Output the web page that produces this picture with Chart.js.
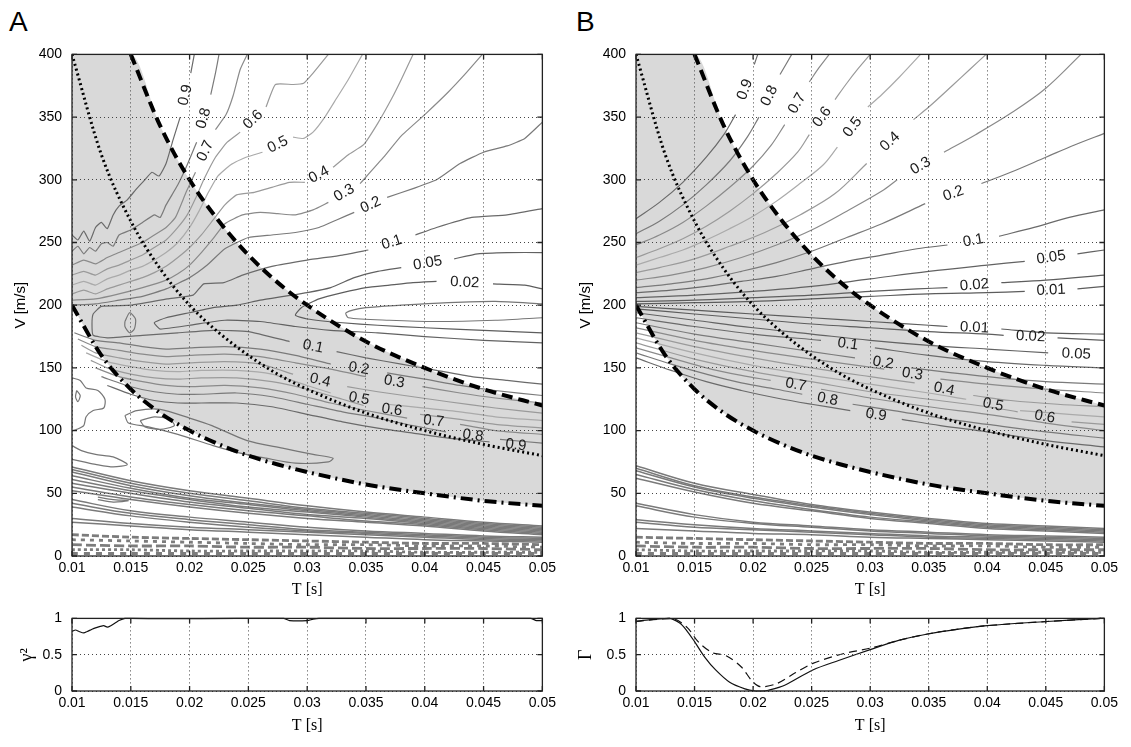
<!DOCTYPE html>
<html>
<head>
<meta charset="utf-8">
<script src="https://cdn.jsdelivr.net/npm/chart.js@4/dist/chart.umd.min.js"></script>
<style>
  html, body { margin: 0; padding: 0; background: #fff; width: 1131px; height: 747px; overflow: hidden; }
  .box { position: absolute; }
  .panel { position: absolute; font-family: 'Liberation Sans', Arial, sans-serif; font-size: 28px; line-height: 1; color: #000; }
</style>
</head>
<body>
<div class="panel" style="left:9px;top:8px;">A</div>
<div class="panel" style="left:576px;top:8px;">B</div>
<div class="box" style="left:0px;top:36px;"><canvas id="mainA" width="560" height="564"></canvas></div>
<div class="box" style="left:565px;top:36px;"><canvas id="mainB" width="557" height="564"></canvas></div>
<div class="box" style="left:0px;top:600px;"><canvas id="lowA" width="560" height="135"></canvas></div>
<div class="box" style="left:565px;top:600px;"><canvas id="lowB" width="557" height="135"></canvas></div>
<script>
// ---------- axes ----------
const tTicks = [0.01, 0.015, 0.02, 0.025, 0.03, 0.035, 0.04, 0.045, 0.05];
const tTickLabels = ['0.01', '0.015', '0.02', '0.025', '0.03', '0.035', '0.04', '0.045', '0.05'];
const vTicks = [0, 50, 100, 150, 200, 250, 300, 350, 400];
const vTickLabels = ['0', '50', '100', '150', '200', '250', '300', '350', '400'];
const rTicks = [0, 0.5, 1];
const rTickLabels = ['0', '0.5', '1'];

// ---------- reference curves (T [s], V [m/s]) ----------
const dashedT = [0.015, 0.0175, 0.02, 0.0225, 0.025, 0.0275, 0.03, 0.035, 0.04, 0.045, 0.05];
const dashedV = [400, 343, 300, 267, 240, 218, 200, 171, 150, 133, 120];
const dottedT = [0.01, 0.0125, 0.015, 0.0175, 0.02, 0.0225, 0.025, 0.0275, 0.03, 0.035, 0.04, 0.045, 0.05];
const dottedV = [400, 320, 267, 229, 200, 178, 160, 145, 133, 114, 100, 89, 80];
const dashDotT = [0.01, 0.0125, 0.015, 0.0175, 0.02, 0.0225, 0.025, 0.0275, 0.03, 0.035, 0.04, 0.045, 0.05];
const dashDotV = [200, 160, 133, 114, 100, 89, 80, 73, 67, 57, 50, 44, 40];
const shadeTopV = [400, 400, 400, 343, 300, 267, 240, 218, 200, 171, 150, 133, 120];

// ---------- panel A contours ([T, V] points, null = label break) ----------
const aFanLevels = ['0.9', '0.8', '0.7', '0.6', '0.5', '0.4', '0.3', '0.2'];
const aFanLines = [
  [[0.01,256],[0.0105,252],[0.011,259],[0.0115,251],[0.012,262],[0.0125,266],[0.013,261],[0.0135,272],[0.014,279],[0.0147,284],[0.0155,293],[0.0162,300],[0.0168,306],[0.0174,303],[0.018,313],[0.0186,332],[0.0192,350],null,[0.0201,385],[0.0204,400]],
  [[0.01,243],[0.0105,247],[0.011,241],[0.0115,246],[0.012,243],[0.0125,249],[0.013,250],[0.0135,247],[0.014,256],[0.015,260],[0.016,266],[0.017,272],[0.0175,270],[0.018,280],[0.019,296],[0.0198,312],[0.0206,330],null,[0.0218,368],[0.0222,385],[0.0225,400]],
  [[0.01,232],[0.011,236],[0.012,233],[0.013,238],[0.014,242],[0.015,246],[0.016,250],[0.017,256],[0.018,262],[0.0188,270],[0.0197,290],[0.0205,306],null,[0.0222,340],[0.0231,352],[0.0237,367],[0.0243,388],[0.0249,400]],
  [[0.01,224],[0.011,227],[0.012,224],[0.013,229],[0.014,232],[0.015,236],[0.016,240],[0.017,246],[0.018,252],[0.019,262],[0.0198,272],[0.0205,285],[0.0212,300],[0.0222,318],[0.0232,330],[0.0243,338],null,[0.0265,358],[0.0273,376],[0.0288,376],[0.0297,377],[0.0305,385],[0.0318,400]],
  [[0.01,216],[0.011,219],[0.012,216],[0.013,221],[0.014,224],[0.015,228],[0.016,231],[0.017,236],[0.018,242],[0.019,250],[0.02,262],[0.0208,275],[0.0216,290],[0.0224,303],[0.0235,312],[0.0248,318],[0.0262,322],null,[0.0288,334],[0.0297,333],[0.0305,338],[0.0315,350],[0.0325,365],[0.0335,380],[0.0347,400]],
  [[0.01,209],[0.011,212],[0.012,209],[0.013,213],[0.014,216],[0.015,219],[0.016,222],[0.017,226],[0.018,231],[0.019,238],[0.02,246],[0.021,256],[0.022,268],[0.023,280],[0.024,288],[0.0255,290],[0.027,294],[0.0285,298],[0.0298,298],null,[0.0322,310],[0.0335,320],[0.0348,328],[0.036,345],[0.0372,365],[0.038,380],[0.039,400]],
  [[0.01,204],[0.012,205],[0.014,209],[0.016,214],[0.018,220],[0.019,225],[0.02,232],[0.021,242],[0.022,253],[0.023,265],[0.0245,272],[0.026,274],[0.0275,273],[0.029,272],[0.0305,276],[0.0318,282],null,[0.0345,297],[0.0365,318],[0.038,335],[0.04,352],[0.042,370],[0.0435,385],[0.0449,400]],
  [[0.01,200],[0.012,201],[0.014,204],[0.016,207],[0.018,213],[0.02,222],[0.0215,232],[0.023,245],[0.025,254],[0.027,256],[0.029,258],[0.031,262],[0.0325,268],[0.034,274],null,[0.0368,286],[0.039,293],[0.041,300],[0.043,313],[0.045,322],[0.047,327],[0.0485,333],[0.05,346]]
];
const aMidLevels = ['0.1', '0.05', '0.02'];
const aMidLines = [
  [[0.05,277],[0.047,272],[0.044,270],[0.041,262],[0.0392,256],null,[0.0352,244],[0.033,240],[0.03,236],[0.027,231],[0.0245,224],[0.0229,218],[0.0212,217],[0.0203,208],[0.0181,205],[0.015,200],[0.0125,199],[0.0118,193],[0.0117,185],[0.0118,176],[0.013,174],[0.016,176],[0.019,178],[0.022,180],[0.025,179],[0.0285,171],null,[0.0325,163],[0.035,158],[0.038,153],[0.041,148],[0.044,143],[0.047,140],[0.05,137]],
  [[0.05,242],[0.047,242],[0.0445,241],[0.0425,237],null,[0.038,230],[0.036,227],[0.034,222],[0.032,214],[0.03,210],[0.028,207],[0.026,204],[0.024,200],[0.022,198],[0.02,194],[0.018,190],[0.017,186],[0.0175,181],[0.02,184],[0.023,188],[0.026,187],[0.029,183],[0.032,180],[0.036,178],[0.04,175],[0.045,172],[0.05,170]],
  [[0.05,213],[0.0485,216],[0.0458,217],null,[0.041,219],[0.039,218],[0.037,216],[0.035,214],[0.033,210],[0.031,205],[0.0295,198],[0.029,192],[0.03,189],[0.033,186],[0.036,184],[0.04,182],[0.045,180],[0.05,178]]
];
const aLowLevels = ['0.2', '0.3', '0.4', '0.5', '0.6', '0.7', '0.8', '0.9'];
const aLowLines = [
  [[0.0102,178],[0.012,172],[0.014,170],[0.016,167],[0.018,165],[0.02,166],[0.023,167],[0.026,165],[0.029,160],[0.032,153],null,[0.0368,146],[0.04,141],[0.043,136],[0.046,132],[0.05,128]],
  [[0.0105,173],[0.012,167],[0.014,164],[0.016,161],[0.018,159],[0.02,160],[0.023,161],[0.026,159],[0.029,154],[0.032,149],[0.035,143],null,[0.0398,135],[0.043,130],[0.046,126],[0.05,122]],
  [[0.0108,168],[0.012,162],[0.014,158],[0.016,155],[0.018,153],[0.02,154],[0.023,155],[0.026,153],[0.0288,145],null,[0.0334,135],[0.036,131],[0.039,127],[0.042,123],[0.046,118],[0.05,114]],
  [[0.0112,162],[0.013,155],[0.015,151],[0.017,148],[0.019,147],[0.021,148],[0.024,148],[0.027,145],[0.03,136],[0.032,130],null,[0.0368,121],[0.04,118],[0.043,115],[0.046,111],[0.05,108]],
  [[0.0116,156],[0.013,150],[0.015,145],[0.017,142],[0.019,141],[0.021,142],[0.024,142],[0.027,139],[0.03,133],[0.033,125],[0.0348,120],null,[0.0396,113],[0.043,109],[0.046,105],[0.05,102]],
  [[0.012,150],[0.014,143],[0.016,139],[0.018,136],[0.02,135],[0.023,136],[0.026,134],[0.029,129],[0.032,122],[0.035,116],[0.0385,110],null,[0.043,105],[0.046,100],[0.05,97]],
  [[0.0125,143],[0.015,135],[0.017,131],[0.019,129],[0.021,129],[0.024,130],[0.027,127],[0.03,121],[0.033,115],[0.036,110],[0.039,104],[0.0418,99],null,[0.0464,93],[0.05,90]],
  [[0.013,136],[0.015,129],[0.017,124],[0.019,122],[0.021,122],[0.024,122],[0.027,119],[0.03,113],[0.033,107],[0.036,102],[0.039,98],[0.042,94],[0.0455,91],null,[0.05,86]]
];
const aLoops = [
  [[0.05,201],[0.046,203],[0.042,202],[0.038,200],[0.035,198],[0.0333,194],[0.0335,190],[0.037,188],[0.041,187],[0.046,188],[0.05,190]],
  [[0.0145,112],[0.0155,116],[0.0175,117],[0.02,110],[0.0219,104],[0.0249,92],[0.0279,86],[0.0305,81],[0.0322,78],[0.0318,75],[0.029,74],[0.0265,78],[0.0243,82],[0.022,88],[0.019,97],[0.0165,103],[0.0148,106],[0.0145,112]],
  [[0.0158,108],[0.017,111],[0.0183,109],[0.0187,104],[0.0175,101],[0.0162,103],[0.0158,108]],
  [[0.0145,187],[0.0149,194],[0.0154,189],[0.0153,181],[0.0149,178],[0.0145,183],[0.0145,187]],
  [[0.01,142],[0.0107,140],[0.0112,134],[0.0122,132],[0.0128,125],[0.0127,118],[0.0118,116],[0.0112,111],[0.011,104],[0.0104,101],[0.01,100]],
  [[0.0104,132],[0.0107,128],[0.0105,123],[0.0103,127],[0.0104,132]],
  [[0.01,88],[0.0108,84],[0.012,81],[0.0135,79],[0.0147,73],[0.0135,71],[0.012,73],[0.011,75],[0.01,77]],
  [[0.0122,47],[0.0135,45],[0.0148,44],[0.0135,43],[0.0122,45]]
];

// ---------- low-velocity bands, sampled at bandT ----------
const bandT = [0.01, 0.015, 0.02, 0.025, 0.03, 0.035, 0.04, 0.045, 0.05];
const aBands = [
  [71,60,52,46,40,35,31,27,24],
  [69,58,50,44,38,34,30,26,23],
  [67,56,48,42,37,33,29,25,22],
  [64,54,46,41,36,32,28,24,21],
  [61,52,45,39,35,31,27,23,20],
  [58,50,43,38,33,30,26,22,19],
  [55,47,41,36,32,28,25,21,18],
  [52,45,39,34,30,27,24,20,17],
  [45,36,31,27,23,20,18,16,15],
  [42,34,29,25,21,19,17,15,14],
  [39,32,27,23,20,18,16,14,13],
  [30,26,23,21,19,17,15,13,12],
  [27,24,21,19,17,15,13,12,11]
];
const aNoise = [
  [17,15,14,13,12,11,10,10,9],
  [13,12,11,10,9,9,8,8,7],
  [9,8,8,7,7,6,6,6,5],
  [5,5,4,4,4,4,3,3,3],
  [2,2,2,2,2,2,2,2,2]
];

// ---------- panel B contours ----------
const bFanLevels = ['0.9', '0.8', '0.7', '0.6', '0.5', '0.4', '0.3', '0.2', '0.1', '0.05', '0.02', '0.01'];
const bFanLines = [
  [[0.01,269],[0.012,282],[0.014,298],[0.016,318],[0.0175,336],[0.0185,352],null,[0.0201,392],[0.0204,400]],
  [[0.01,257],[0.012,267],[0.014,280],[0.016,296],[0.018,315],[0.0195,334],[0.0205,350],null,[0.0223,384],[0.0233,400]],
  [[0.01,248],[0.012,256],[0.014,266],[0.016,279],[0.018,294],[0.02,311],[0.0215,327],[0.0227,344],null,[0.0248,378],[0.0256,389],[0.0265,400]],
  [[0.01,238],[0.012,245],[0.014,253],[0.016,263],[0.018,275],[0.02,289],[0.022,305],[0.0238,322],[0.0248,336],null,[0.027,364],[0.028,377],[0.029,389],[0.03,400]],
  [[0.01,232],[0.012,238],[0.014,244],[0.016,252],[0.018,261],[0.02,271],[0.022,283],[0.024,297],[0.026,312],[0.0272,326],null,[0.0298,358],[0.031,368],[0.0325,382],[0.0343,400]],
  [[0.01,226],[0.012,230],[0.015,237],[0.018,247],[0.021,258],[0.024,272],[0.027,289],[0.0297,313],null,[0.0337,348],[0.035,358],[0.037,375],[0.0385,388],[0.0399,400]],
  [[0.01,220],[0.013,224],[0.016,230],[0.019,238],[0.022,248],[0.025,260],[0.028,275],[0.031,291],[0.0323,300],null,[0.0363,322],[0.039,336],[0.042,353],[0.045,373],[0.048,400]],
  [[0.01,214],[0.013,217],[0.016,221],[0.019,227],[0.022,234],[0.025,243],[0.028,254],[0.031,265],[0.0347,281],null,[0.0395,297],[0.042,306],[0.045,318],[0.0475,328],[0.05,337]],
  [[0.01,210],[0.013,212],[0.016,215],[0.019,219],[0.022,223],[0.025,229],[0.028,235],[0.031,240],[0.034,245],[0.0366,248],null,[0.041,255],[0.044,262],[0.047,270],[0.05,276]],
  [[0.01,206],[0.015,208],[0.02,211],[0.025,215],[0.03,221],[0.035,227],[0.04,232],[0.0432,235],null,[0.0477,241],[0.05,244]],
  [[0.01,203],[0.015,204],[0.02,206],[0.025,208],[0.03,211],[0.034,213],[0.0366,214],null,[0.0412,218],[0.045,220],[0.05,224]],
  [[0.01,201],[0.015,202],[0.02,203],[0.025,205],[0.03,207],[0.035,209],[0.04,210],[0.0432,211],null,[0.0477,213],[0.05,215]]
];
const bLowLevels = ['0.01', '0.02', '0.05', '0.1', '0.2', '0.3', '0.4', '0.5', '0.6', '0.7', '0.8', '0.9'];
const bLowLines = [
  [[0.01,199],[0.015,196],[0.02,193],[0.025,190],[0.03,187],[0.035,184],[0.0366,183],null,[0.0412,181],[0.045,178],[0.05,177]],
  [[0.01,197],[0.015,193],[0.02,189],[0.025,185],[0.03,182],[0.035,179],[0.04,177],[0.0414,176],null,[0.046,174],[0.05,172]],
  [[0.01,194],[0.015,188],[0.02,182],[0.025,177],[0.03,172],[0.035,168],[0.04,165],[0.0452,162],null,[0.05,160]],
  [[0.01,190],[0.015,183],[0.02,177],[0.0258,172],null,[0.0304,166],[0.035,160],[0.04,155],[0.045,152],[0.05,150]],
  [[0.01,186],[0.015,177],[0.02,170],[0.025,163],[0.0287,158],null,[0.0335,150],[0.037,146],[0.041,142],[0.045,139],[0.05,137]],
  [[0.01,182],[0.015,172],[0.02,164],[0.025,157],[0.0312,149],null,[0.036,141],[0.04,137],[0.045,133],[0.05,130]],
  [[0.01,178],[0.015,167],[0.02,158],[0.025,150],[0.03,143],[0.0338,138],null,[0.0388,128],[0.042,124],[0.046,121],[0.05,119]],
  [[0.01,174],[0.015,162],[0.02,152],[0.025,144],[0.03,137],[0.035,130],[0.0382,125],null,[0.0428,116],[0.047,113],[0.05,111]],
  [[0.01,170],[0.015,157],[0.02,147],[0.025,139],[0.03,131],[0.035,125],[0.04,119],[0.0426,115],null,[0.0472,107],[0.05,105]],
  [[0.01,166],[0.013,158],[0.016,150],[0.019,144],[0.0215,140],null,[0.0258,133],[0.03,126],[0.035,119],[0.04,113],[0.045,106],[0.05,100]],
  [[0.01,162],[0.013,153],[0.016,145],[0.019,138],[0.022,133],[0.0242,129],null,[0.0285,121],[0.032,116],[0.036,110],[0.04,105],[0.045,99],[0.05,94]],
  [[0.01,158],[0.013,148],[0.016,139],[0.019,132],[0.022,126],[0.025,121],[0.0283,116],null,[0.0327,109],[0.036,104],[0.04,99],[0.045,92],[0.05,87]]
];
const bBands = [
  [72,58,49,41,35,30,26,24,22],
  [70,56,47,40,34,29,25,23,21],
  [68,55,46,39,33,28,24,22,20],
  [65,53,44,37,31,27,23,21,19],
  [62,51,42,36,30,26,22,20,18],
  [42,33,27,24,21,19,17,16,15],
  [40,31,26,23,20,18,16,15,14],
  [29,25,22,20,18,16,15,14,13],
  [27,23,21,19,17,15,14,13,12],
  [22,20,18,17,15,14,13,12,11]
];
const bNoise = [
  [15,14,13,12,11,10,10,9,9],
  [11,10,10,9,9,8,8,7,7],
  [8,7,7,6,6,6,5,5,5],
  [5,4,4,4,4,3,3,3,3],
  [2,2,2,2,2,2,2,2,2]
];

// ---------- lower panels ----------
const gammaT = [0.01,0.0103,0.0106,0.011,0.0113,0.0117,0.012,0.0124,0.0127,0.013,0.0133,0.0137,0.014,0.0145,0.015,0.018,0.024,0.028,0.0285,0.03,0.0305,0.031,0.035,0.04,0.045,0.049,0.0495,0.05];
const gammaV = [0.82,0.84,0.82,0.80,0.82,0.85,0.87,0.89,0.90,0.88,0.90,0.94,0.97,1.0,1.0,0.995,1.0,1.0,0.97,0.97,0.99,1.0,1.0,1.0,1.0,1.0,0.97,0.97];
const gSolidT = [0.01,0.0128,0.0137,0.0143,0.015,0.0159,0.0168,0.018,0.0193,0.0202,0.0208,0.0213,0.0227,0.0251,0.0273,0.03,0.0325,0.0349,0.0374,0.04,0.0451,0.0497,0.05];
const gSolidV = [0.96,1.0,0.94,0.84,0.68,0.46,0.29,0.12,0.03,0.0,0.0,0.01,0.08,0.29,0.42,0.57,0.70,0.785,0.85,0.90,0.957,1.0,1.0];
const gDashT = [0.01,0.0131,0.0144,0.0153,0.0165,0.0177,0.019,0.0199,0.0206,0.022,0.0236,0.0251,0.0276,0.03,0.0325,0.0349,0.0374,0.04,0.0451,0.0497,0.05];
const gDashV = [0.96,1.0,0.87,0.68,0.53,0.485,0.33,0.14,0.06,0.1,0.25,0.38,0.51,0.59,0.70,0.785,0.85,0.90,0.957,1.0,1.0];

// ---------- helpers ----------
const SANS = "'Liberation Sans', Arial, Helvetica, sans-serif";
const SERIF = "'Liberation Serif', 'Times New Roman', serif";

function pairs(ts, vs) { return ts.map((t, i) => ({ x: t, y: vs[i] })); }
function fromPts(pts) {
  const out = [];
  pts.forEach((p, i) => {
    if (p === null) {
      const a = pts[i - 1], b = pts[i + 1];
      out.push({ x: (a[0] + b[0]) / 2, y: null });
    } else out.push({ x: p[0], y: p[1] });
  });
  return out;
}
function levelGray(level) {
  const d = Math.min(1, Math.abs(parseFloat(level) - 0.5) / 0.5);
  const g = Math.round(170 - 80 * d);
  return 'rgb(' + g + ',' + g + ',' + g + ')';
}
function line(data, color, width, dash, tension, extra) {
  return Object.assign({
    data, borderColor: color, borderWidth: width, borderDash: dash || [],
    pointRadius: 0, tension: tension || 0, fill: false, spanGaps: false
  }, extra || {});
}

function mainDatasets(side) {
  const ds = [];
  ds.push(line(pairs(dashedT, dashedV), '#000', 4, [11, 6], 0, { cubicInterpolationMode: 'monotone' }));
  ds.push(line(pairs(dottedT, dottedV), '#000', 3, [2, 3], 0, { cubicInterpolationMode: 'monotone' }));
  ds.push(line(pairs(dashDotT, dashDotV), '#000', 4, [12, 5, 2, 5], 0, { cubicInterpolationMode: 'monotone' }));
  const groups = side === 'A'
    ? [[aFanLevels, aFanLines, 0.15], [aMidLevels, aMidLines, 0.15], [aLowLevels, aLowLines, 0.2]]
    : [[bFanLevels, bFanLines, 0.35], [bLowLevels, bLowLines, 0.35]];
  groups.forEach(([levels, lines, ten]) => {
    lines.forEach((pts, i) => {
      ds.push(line(fromPts(pts), levelGray(levels[i]), 1.2, [], ten, { contourLabel: levels[i] }));
    });
  });
  if (side === 'A') aLoops.forEach(pts => ds.push(line(fromPts(pts), '#767676', 1.2, [], 0.25)));
  const bands = side === 'A' ? aBands : bBands;
  const noise = side === 'A' ? aNoise : bNoise;
  bands.forEach(v => ds.push(line(pairs(bandT, v), '#7a7a7a', 1.5, [], 0.35)));
  const dashes = [[7, 3], [4, 5], [10, 4], [3, 3], [6, 6]];
  noise.forEach((v, i) => ds.push(line(pairs(bandT, v), '#7c7c7c', 2.8, dashes[i % dashes.length], 0.3)));
  // shaded band between the dashed and dash-dot curves
  ds.push(line(pairs(dashDotT, shadeTopV), 'rgba(0,0,0,0)', 0, [], 0,
    { cubicInterpolationMode: 'monotone', fill: '+1', backgroundColor: '#d9d9d9' }));
  ds.push(line(pairs(dashDotT, dashDotV), 'rgba(0,0,0,0)', 0, [], 0, { cubicInterpolationMode: 'monotone' }));
  return ds;
}

// labels written into the breaks of contour lines
const contourLabels = {
  id: 'contourLabels',
  afterDatasetsDraw(chart) {
    const { ctx, chartArea: a } = chart;
    const xs = chart.scales.x, ys = chart.scales.y;
    ctx.save();
    ctx.font = '15px ' + SANS;
    ctx.fillStyle = '#1a1a1a';
    ctx.textAlign = 'center';
    ctx.textBaseline = 'middle';
    chart.data.datasets.forEach(ds => {
      if (!ds.contourLabel) return;
      const d = ds.data;
      for (let i = 1; i < d.length - 1; i++) {
        if (d[i].y !== null) continue;
        const x1 = xs.getPixelForValue(d[i - 1].x), y1 = ys.getPixelForValue(d[i - 1].y);
        const x2 = xs.getPixelForValue(d[i + 1].x), y2 = ys.getPixelForValue(d[i + 1].y);
        const mx = (x1 + x2) / 2, my = (y1 + y2) / 2;
        if (mx < a.left || mx > a.right + 6 || my < a.top || my > a.bottom) continue;
        let ang = Math.atan2(y2 - y1, x2 - x1);
        if (ang > Math.PI / 2) ang -= Math.PI;
        if (ang < -Math.PI / 2) ang += Math.PI;
        ctx.save();
        ctx.translate(mx, my);
        ctx.rotate(ang);
        ctx.fillText(ds.contourLabel, 0, 0);
        ctx.restore();
      }
    });
    ctx.restore();
  }
};

// box frame with inward tick marks
const frame = {
  id: 'frame',
  afterDraw(chart) {
    const { ctx, chartArea: a } = chart;
    const xs = chart.scales.x, ys = chart.scales.y;
    ctx.save();
    ctx.strokeStyle = '#222';
    ctx.lineWidth = 1.3;
    ctx.setLineDash([]);
    ctx.strokeRect(a.left, a.top, a.right - a.left, a.bottom - a.top);
    ctx.beginPath();
    xs.ticks.forEach(t => {
      const p = xs.getPixelForValue(t.value);
      ctx.moveTo(p, a.bottom); ctx.lineTo(p, a.bottom - 5);
      ctx.moveTo(p, a.top); ctx.lineTo(p, a.top + 5);
    });
    ys.ticks.forEach(t => {
      const p = ys.getPixelForValue(t.value);
      ctx.moveTo(a.left, p); ctx.lineTo(a.left + 5, p);
      ctx.moveTo(a.right, p); ctx.lineTo(a.right - 5, p);
    });
    ctx.stroke();
    ctx.restore();
  }
};

function build(id, datasets, o) {
  return new Chart(document.getElementById(id), {
    type: 'line',
    data: { datasets },
    options: {
      responsive: false, animation: false, devicePixelRatio: 1, events: [],
      layout: { padding: { top: o.padTop, right: 12, left: 0, bottom: 0 } },
      plugins: { legend: { display: false }, tooltip: { enabled: false } },
      scales: {
        x: {
          type: 'linear', min: 0.01, max: 0.05,
          afterBuildTicks: s => { s.ticks = tTicks.map(v => ({ value: v })); },
          afterFit: s => { s.height = o.xHeight; },
          ticks: { callback: (v, i) => tTickLabels[i], font: { family: SANS, size: 14 }, color: '#000', padding: 4, maxRotation: 0, autoSkip: false },
          grid: { color: '#444', lineWidth: 1, drawTicks: false, z: 1 },
          border: { display: false, dash: [1, 3] },
          title: { display: true, text: 'T [s]', font: { family: SERIF, size: 16 }, color: '#000', padding: { top: 0, bottom: o.xTitlePad } }
        },
        y: {
          type: 'linear', min: o.yMin, max: o.yMax,
          afterBuildTicks: s => { s.ticks = o.yTicks.map(v => ({ value: v })); },
          afterFit: s => { s.width = o.yWidth; },
          ticks: { callback: (v, i) => o.yLabels[i], font: { family: SANS, size: 14 }, color: '#000', padding: 10, autoSkip: false },
          grid: { color: '#444', lineWidth: 1, drawTicks: false, z: 1 },
          border: { display: false, dash: [1, 3] },
          title: { display: true, text: o.yTitle, font: o.yTitleFont, color: '#000', padding: { top: o.yTitlePad, bottom: 0 } }
        }
      }
    },
    plugins: [contourLabels, frame]
  });
}

const mainOpts = (w) => ({
  padTop: 10, xHeight: 44, xTitlePad: 1, yWidth: w, yMin: 0, yMax: 400,
  yTicks: vTicks, yLabels: vTickLabels, yTitle: 'V [m/s]',
  yTitleFont: { family: SANS, size: 15 }, yTitlePad: 12
});
build('mainA', mainDatasets('A'), mainOpts(72));
build('mainB', mainDatasets('B'), mainOpts(71));

const lowOpts = (w, title, pad) => ({
  padTop: 12, xHeight: 44, xTitlePad: 0, yWidth: w, yMin: 0, yMax: 1,
  yTicks: rTicks, yLabels: rTickLabels, yTitle: title,
  yTitleFont: { family: SERIF, size: 18 }, yTitlePad: pad
});
build('lowA', [line(pairs(gammaT, gammaV), '#111', 1.2, [], 0.2, { clip: 3 })], lowOpts(72, 'γ²', 16));
build('lowB', [
  line(pairs(gSolidT, gSolidV), '#111', 1.2, [], 0.3, { clip: 3 }),
  line(pairs(gDashT, gDashV), '#111', 1.2, [8, 5], 0.3, { clip: 3 })
], lowOpts(71, 'Γ', 10));
</script>
</body>
</html>
